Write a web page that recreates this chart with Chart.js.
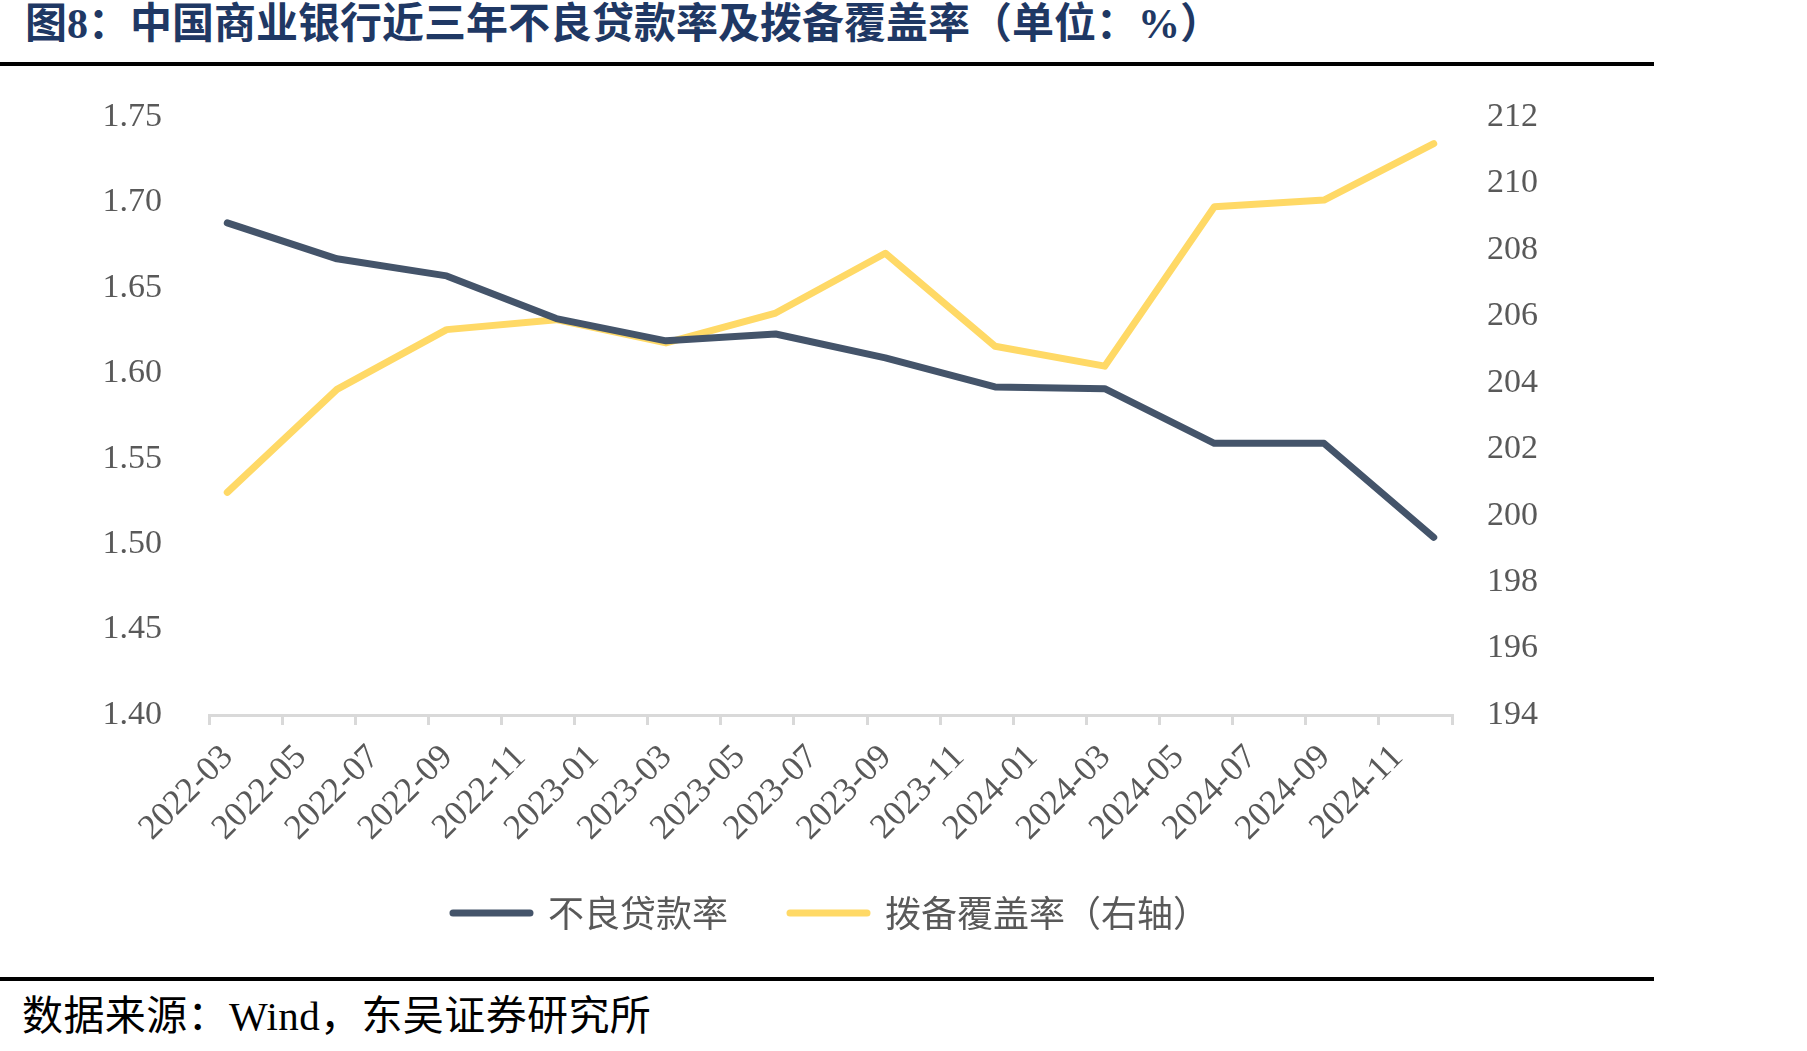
<!DOCTYPE html>
<html>
<head>
<meta charset="utf-8">
<script src="https://cdn.jsdelivr.net/npm/chart.js@4.4.1/dist/chart.umd.min.js"></script>
<style>
html,body{margin:0;padding:0;background:#fff;width:1807px;height:1051px;overflow:hidden;position:relative;}
#title{position:absolute;left:25px;top:0px;line-height:49px;font-family:"Liberation Serif","Noto Sans CJK SC",serif;font-weight:700;font-size:42px;color:#1f3864;white-space:nowrap;}
.rule{position:absolute;left:0;width:1654px;height:4px;background:#000;}
#src{position:absolute;left:22px;top:994px;line-height:44px;font-family:"Liberation Serif","Noto Sans CJK SC",serif;font-size:41px;letter-spacing:0.4px;color:#000;white-space:nowrap;}
#wrap{position:absolute;left:0;top:70px;width:1662px;height:880px;}
</style>
</head>
<body>
<div id="title">图8：中国商业银行近三年不良贷款率及拨备覆盖率（单位：%）</div>
<div class="rule" style="top:62px"></div>
<div id="wrap"><canvas id="c" width="1662" height="880" style="width:1662px;height:880px"></canvas></div>
<div class="rule" style="top:977px"></div>
<div id="src">数据来源：Wind，东吴证券研究所</div>
<script>
// ---- data ----
const categories = ['2022-03','2022-06','2022-09','2022-12','2023-03','2023-06','2023-09','2023-12','2024-03','2024-06','2024-09','2024-12'];
const nplRatio = [1.688,1.667,1.657,1.632,1.619,1.623,1.609,1.592,1.591,1.559,1.559,1.504];
const provisionCoverage = [200.7,203.8,205.6,205.9,205.2,206.1,207.9,205.1,204.5,209.3,209.5,211.2];
const xTickLabels = ['2022-03','2022-05','2022-07','2022-09','2022-11','2023-01','2023-03','2023-05','2023-07','2023-09','2023-11','2024-01','2024-03','2024-05','2024-07','2024-09','2024-11'];
const seriesNames = ['不良贷款率','拨备覆盖率（右轴）'];
const axisStartMonth = '2022-03';
const axisMonths = 34;

function monthIdx(s){
  const [y,m] = s.split('-').map(Number);
  const [y0,m0] = axisStartMonth.split('-').map(Number);
  return (y-y0)*12 + (m-m0);
}
const toPts = vals => vals.map((v,i)=>({x: monthIdx(categories[i]) + 0.5, y: v}));

const yFont = {family:'"Liberation Serif", "Times New Roman", serif', size:34};
const xFont = {family:'"Liberation Serif", "Times New Roman", serif', size:35};
const grey = '#595959';

new Chart(document.getElementById('c'), {
  type: 'line',
  data: {
    datasets: [
      {label: seriesNames[0], data: toPts(nplRatio), yAxisID:'yL', borderColor:'#44546a', backgroundColor:'#44546a',
       borderWidth:7, pointRadius:0, tension:0, borderCapStyle:'round', borderJoinStyle:'round'},
      {label: seriesNames[1], data: toPts(provisionCoverage), yAxisID:'yR', borderColor:'#ffd966', backgroundColor:'#ffd966',
       borderWidth:7, pointRadius:0, tension:0, borderCapStyle:'round', borderJoinStyle:'round'}
    ]
  },
  options: {
    responsive:false, animation:false, devicePixelRatio:1,
    layout:{padding:{top:47, bottom:9, left:0, right:0}},
    plugins:{
      tooltip:{enabled:false},
      legend:{
        position:'bottom',
        labels:{
          usePointStyle:true, pointStyleWidth:77, padding:62,
          font:{family:'"Noto Sans CJK SC", sans-serif', size:36}, color:grey,
          generateLabels: chart => chart.data.datasets.map((ds,i)=>({
            text: ds.label, fillStyle: ds.borderColor, strokeStyle: ds.borderColor,
            lineWidth:7, lineCap:'round', pointStyle:'line', hidden:false, datasetIndex:i, fontColor:grey
          }))
        }
      }
    },
    scales:{
      x:{
        type:'linear', min:0, max:axisMonths,
        afterFit: s => { s.height = 118; s._computeLabelArea = () => null; },
        ticks:{stepSize:2, autoSkip:false, maxRotation:45, minRotation:45, padding:12, labelOffset:19, color:grey, font:xFont,
          callback: v => { const i = v/2; return (Number.isInteger(i) && i < xTickLabels.length) ? xTickLabels[i] : ''; }},
        grid:{display:true, drawOnChartArea:false, drawTicks:true, tickLength:10, color:'#d9d9d9', lineWidth:3},
        border:{display:true, color:'#d9d9d9', width:3}
      },
      yL:{
        position:'left', min:1.40, max:1.75,
        afterFit: s => { s.width = 209; s.paddingTop = 0; s.paddingBottom = 0; },
        ticks:{stepSize:0.05, padding:47, color:grey, font:yFont, callback: v => Number(v).toFixed(2)},
        grid:{display:false, drawTicks:false}, border:{display:false}
      },
      yR:{
        position:'right', min:194, max:212,
        afterFit: s => { s.width = 210; s.paddingTop = 0; s.paddingBottom = 0; },
        ticks:{stepSize:2, padding:35, color:grey, font:yFont, callback: v => String(v)},
        grid:{display:false, drawTicks:false}, border:{display:false}
      }
    }
  }
});
</script>
</body>
</html>
